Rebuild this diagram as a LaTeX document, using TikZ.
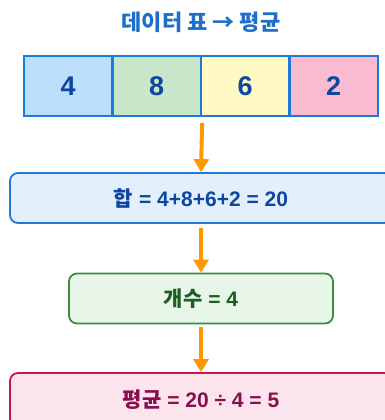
\documentclass[tikz,border=0pt]{standalone}
\usepackage{fontspec}
\setmainfont{Liberation Sans}
\newfontfamily\kr{Noto Sans CJK KR}
\usetikzlibrary{arrows.meta}
\definecolor{tblue}{HTML}{1E6FC8}
\definecolor{lineblue}{HTML}{1E7AD8}
\definecolor{darkblue}{HTML}{0D47A1}
\definecolor{c1}{HTML}{BBDEFB}
\definecolor{c2}{HTML}{C8E6C9}
\definecolor{c3}{HTML}{FFF9C4}
\definecolor{c4}{HTML}{F8BBD0}
\definecolor{sumfill}{HTML}{E3F0FC}
\definecolor{cntfill}{HTML}{E8F5E9}
\definecolor{cntline}{HTML}{388E3C}
\definecolor{cnttext}{HTML}{1B5E20}
\definecolor{avgfill}{HTML}{FCE4EC}
\definecolor{avgline}{HTML}{C2185B}
\definecolor{avgtext}{HTML}{880E4F}
\definecolor{flow}{HTML}{FF9800}
\begin{document}
\begin{tikzpicture}[x=1pt, y=-1pt,
			cell/.style={draw=lineblue, line width=2.2pt, minimum width=88.5pt, minimum height=60pt, inner sep=0pt, font=\fontsize{27}{29}\selectfont\bfseries, text=darkblue},
			stage/.style={rounded corners=8pt, line width=1.8pt, minimum height=50pt, inner sep=0pt, font=\fontsize{21}{23}\selectfont\bfseries},
			flowarrow/.style={draw=flow, line width=4pt, -{Triangle[width=15pt, length=13pt]}},
		]
		\useasboundingbox (0, 0) rectangle (385, 420);
		\clip (0, 0) rectangle (385, 420);
		\node[font=\fontsize{22}{24}\selectfont\bfseries, text=tblue] (title) at (201, 22) {\kr\bfseries 데이터 표 → 평균};

		\node[cell, fill=c1] (d1) at (68.25, 86)  {4};
		\node[cell, fill=c2] (d2) at (156.75, 86) {8};
		\node[cell, fill=c3] (d3) at (245.25, 86) {6};
		\node[cell, fill=c4] (d4) at (333.75, 86) {2};

		\node[stage, draw=lineblue, fill=sumfill, text=darkblue, minimum width=382pt] (sum) at (201, 198) {{\kr\bfseries 합} = 4+8+6+2 = 20};
		\node[stage, draw=cntline, fill=cntfill, text=cnttext, minimum width=264pt] (cnt) at (201, 298.5) {{\kr\bfseries 개수} = 4};
		\node[stage, draw=avgline, fill=avgfill, text=avgtext, minimum width=382pt, minimum height=54pt] (avg) at (201, 400) {{\kr\bfseries 평균} = 20 ÷ 4 = 5};

		% data -> sum -> count -> average
		\draw[flowarrow] (d2.south east) ++(0, 6) -- (sum.north);
		\draw[flowarrow] (sum.south) ++(0, 4) -- (cnt.north);
		\draw[flowarrow] (cnt.south) ++(0, 3) -- (avg.north);
	\end{tikzpicture}
\end{document}
